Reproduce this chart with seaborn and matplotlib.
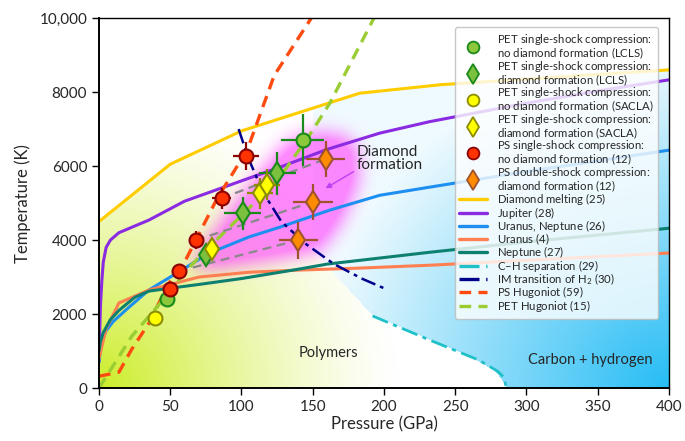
import numpy as np
import matplotlib
matplotlib.use("Agg")
import matplotlib.pyplot as plt
import matplotlib.lines as mlines
from matplotlib.path import Path
import seaborn as sns

sns.set_style("ticks")
plt.rcParams['font.family'] = ['Lato', 'DejaVu Sans']
plt.rcParams['mathtext.fontset'] = 'custom'
plt.rcParams['mathtext.rm'] = 'Lato'
plt.rcParams['mathtext.it'] = 'Lato:italic'
plt.rcParams['mathtext.default'] = 'regular'

# ---- curves (pressure GPa, temperature K) ----
melt_p = [0, 50, 100, 183, 240, 400]
melt_t = [4500, 6050, 6950, 7970, 8200, 8600]

jup_p = [0, 0.5, 1, 2, 3, 5, 8, 14, 35, 60, 100, 127, 160, 197, 232, 300, 350, 400]
jup_t = [700, 1500, 2200, 2900, 3400, 3800, 4000, 4200, 4540, 5050, 5600, 5970, 6450, 6890, 7200, 7700, 8030, 8330]

un_p = [0, 1, 2, 5, 10, 20, 35, 56, 77, 105, 127, 140, 162, 197, 232, 300, 400]
un_t = [700, 1000, 1250, 1550, 1800, 2150, 2650, 3140, 3640, 4080, 4350, 4520, 4810, 5210, 5430, 5850, 6430]

ura_p = [0, 5, 14, 35, 70, 105, 141, 181, 232, 400]
ura_t = [800, 1600, 2300, 2650, 3000, 3130, 3190, 3240, 3320, 3650]

nep_p = [0, 1, 3, 8, 14, 25, 35, 50, 70, 100, 141, 160, 232, 300, 400]
nep_t = [1000, 1250, 1500, 1850, 2100, 2450, 2620, 2700, 2800, 2960, 3220, 3350, 3670, 3950, 4320]

ch_p = [192, 232, 267, 280, 284, 286]
ch_t = [1950, 1300, 750, 450, 300, 0]

im_p = [98, 105, 115, 128, 145, 165, 185, 200]
im_t = [7000, 6200, 5300, 4500, 3900, 3350, 2950, 2700]

psh_p = [0, 14, 23, 35, 49, 60, 83, 104, 115, 123, 149]
psh_t = [320, 430, 1050, 1750, 2830, 3400, 5130, 6430, 7600, 8450, 10000]

peth_p = [0, 23, 42, 63, 77, 101, 127, 148, 162, 193]
peth_t = [0, 1400, 2250, 3250, 3800, 4700, 5700, 6850, 7700, 10000]

# ---- measurements ----
lcls_no_p, lcls_no_t = [48, 143], [2400, 6700]
lcls_no_xe, lcls_no_ye = [2, 15], [100, 700]
lcls_d_p, lcls_d_t = [75, 101, 125], [3590, 4720, 5800]
lcls_d_xe, lcls_d_ye = [5, 13, 13], [220, 450, 590]
sacla_no_p, sacla_no_t = [39], [1890]
sacla_d_p, sacla_d_t = [79, 113, 118], [3760, 5270, 5490]
sacla_d_xe, sacla_d_ye = [5, 9, 9], [250, 420, 420]
ps_p, ps_t = [50, 56, 68, 86, 103], [2680, 3160, 4000, 5130, 6270]
ps_xe, ps_ye = [2, 2, 5, 7, 9], [100, 100, 250, 280, 380]
psd_p, psd_t = [140, 150, 159], [4000, 5030, 6190]
psd_xe, psd_ye = [14, 14, 14], [500, 480, 480]

# regions
bnd_t = [0, 150, 450, 850, 1300, 1950, 3700, 10000]
bnd_p = [286, 284, 278, 260, 232, 192, 150, 150]
blob_p = [65, 75, 90, 111, 132, 150, 170, 182, 182, 170, 155, 120, 85]
blob_t = [3250, 3900, 4700, 5700, 6650, 6900, 6850, 6500, 5600, 4500, 3700, 3450, 3250]

fig = plt.figure(figsize=(6.85, 4.41), dpi=100)
ax = fig.add_axes([0.1445, 0.120, 0.832, 0.839])

# background shading
nx, ny = 570, 370
gp = np.linspace(0, 400, nx)
gt = np.linspace(0, 10000, ny)
PP, TT = np.meshgrid(gp, gt)
below = TT <= np.interp(PP, melt_p, melt_t)
left = PP < np.interp(TT, bnd_t, bnd_p)
a_poly = np.clip(1 - np.hypot(PP / 210, TT / 8000), 0, 1) ** 1.3 * (below & left)
a_blue = (0.07 + 0.93 * np.clip(1 - np.hypot((400 - PP) / 250, TT / 9000), 0, 1)) * (below & ~left)
img = np.ones((ny, nx, 3))
green = np.array([0.80, 0.93, 0.16])
blue = np.array([0.15, 0.74, 0.96])
img = img * (1 - a_poly[..., None]) + green * a_poly[..., None]
img = img * (1 - a_blue[..., None]) + blue * a_blue[..., None]
path = Path(np.column_stack([blob_p, blob_t]))
mask = path.contains_points(np.column_stack([PP.ravel(), TT.ravel()])).reshape(ny, nx).astype(float)
k = np.exp(-0.5 * (np.arange(-30, 31) / 9.0) ** 2)
k /= k.sum()
mask = np.apply_along_axis(lambda r: np.convolve(r, k, mode='same'), 1, mask)
mask = np.apply_along_axis(lambda c: np.convolve(c, k, mode='same'), 0, mask)
a_pink = 0.68 * np.clip(mask * 1.3, 0, 1)
pink = np.array([1.0, 0.32, 1.0])
img = img * (1 - a_pink[..., None]) + pink * a_pink[..., None]
ax.imshow(img, extent=[0, 400, 0, 10000], origin='lower', aspect='auto',
          interpolation='bilinear', zorder=0)

# curves
curves = [
    (melt_p, melt_t, '#ffcc00', '-', 2.2),
    (jup_p, jup_t, '#8a2be2', '-', 2.2),
    (un_p, un_t, '#1e8ff0', '-', 2.2),
    (ura_p, ura_t, '#ff7f50', '-', 2.2),
    (nep_p, nep_t, '#0e8070', '-', 2.2),
    (ch_p, ch_t, '#20c0c8', (0, (6, 2, 1.5, 2)), 2.0),
    (im_p, im_t, '#00008b', (0, (6, 2, 1.5, 2)), 1.8),
    (psh_p, psh_t, '#ff4a10', (0, (3.5, 2.2)), 2.4),
    (peth_p, peth_t, '#9acd32', (0, (3.5, 2.2)), 2.4),
]
for xs, ys, c, ls, w in curves:
    sns.lineplot(x=xs, y=ys, ax=ax, color=c, lw=w, linestyle=ls,
                 sort=False, estimator=None, zorder=2)

# double-shock connectors
for i in range(3):
    ax.plot([ps_p[i + 1], psd_p[i]], [ps_t[i + 1], psd_t[i]], color='#888888',
            lw=1.6, ls=(0, (4, 2.5)), zorder=2.5)

def pts(x, y, xe, ye, marker, fc, ec, ms):
    ax.errorbar(x, y, xerr=xe, yerr=ye, fmt=marker, mfc=fc, mec=ec, ecolor=ec,
                ms=ms, mew=1.5, elinewidth=1.6, capsize=0, zorder=4)

pts(psd_p, psd_t, psd_xe, psd_ye, 'd', '#ff8c00', '#a0522d', 11.5)
pts(lcls_d_p, lcls_d_t, lcls_d_xe, lcls_d_ye, 'd', '#7cc040', '#1a8a1a', 11.5)
pts(sacla_d_p, sacla_d_t, sacla_d_xe, sacla_d_ye, 'd', '#ffff00', '#8c8c00', 11.5)
pts(lcls_no_p, lcls_no_t, lcls_no_xe, lcls_no_ye, 'o', '#8cc83c', '#1a8a1a', 10)
pts(ps_p, ps_t, ps_xe, ps_ye, 'o', '#ff3300', '#8b0000', 10)
pts(sacla_no_p, sacla_no_t, None, None, 'o', '#ffff00', '#8c8c00', 10)

# labels in plot
ax.text(161, 950, 'Polymers', ha='center', va='center', fontsize=10.5)
ax.text(345, 760, 'Carbon + hydrogen', ha='center', va='center', fontsize=10.5)
ax.annotate('Diamond\nformation', xy=(159, 5400), xytext=(181, 6200),
            ha='left', va='center', fontsize=11, linespacing=0.95,
            arrowprops=dict(arrowstyle='-|>', color='#c040f0', lw=1,
                            shrinkA=0, shrinkB=0, mutation_scale=8,
                            relpos=(0, 0.1)))

ax.set_xlim(0, 400)
ax.set_ylim(0, 10000)
ax.set_xticks(range(0, 401, 50))
ax.set_yticks(range(0, 10001, 2000))
ax.set_yticklabels(['0', '2000', '4000', '6000', '8000', '10,000'])
ax.set_xlabel('Pressure (GPa)', fontsize=12, labelpad=2)
ax.set_ylabel('Temperature (K)', fontsize=12, labelpad=6)
ax.tick_params(labelsize=11, direction='out', length=5, width=1, color='black')
for s in ax.spines.values():
    s.set_color('black')
    s.set_linewidth(1.0)
ax.spines['left'].set_linewidth(1.4)
ax.spines['bottom'].set_linewidth(1.4)

def mk(marker, fc, ec, ms):
    return mlines.Line2D([], [], marker=marker, ls='None', mfc=fc, mec=ec, mew=1.3, ms=ms)

def ln(c, ls):
    return mlines.Line2D([], [], color=c, lw=2.4, ls=ls)

handles = [
    mk('o', '#8cc83c', '#1a8a1a', 8.5),
    mk('d', '#7cc040', '#1a8a1a', 10.5),
    mk('o', '#ffff00', '#8c8c00', 8.5),
    mk('d', '#ffff00', '#8c8c00', 10.5),
    mk('o', '#ff3300', '#8b0000', 8.5),
    mk('d', '#ff8c00', '#a0522d', 10.5),
] + [ln(c, ls) for _, _, c, ls, _ in curves]
# every line holds a bit of mathtext so all lines get the same height
labels = [
    '$\\mathrm{PET}$ single-shock compression:\nno diamond formation ($\\mathrm{LCLS}$)',
    '$\\mathrm{PET}$ single-shock compression:\ndiamond formation ($\\mathrm{LCLS}$)',
    '$\\mathrm{PET}$ single-shock compression:\nno diamond formation ($\\mathrm{SACLA}$)',
    '$\\mathrm{PET}$ single-shock compression:\ndiamond formation ($\\mathrm{SACLA}$)',
    '$\\mathrm{PS}$ single-shock compression:\nno diamond formation ($\\mathit{12}$)',
    '$\\mathrm{PS}$ double-shock compression:\ndiamond formation ($\\mathit{12}$)',
    'Diamond melting ($\\mathit{25}$)',
    'Jupiter ($\\mathit{28}$)',
    'Uranus, Neptune ($\\mathit{26}$)',
    'Uranus ($\\mathit{4}$)',
    'Neptune ($\\mathit{27}$)',
    'C\u2013H separation ($\\mathit{29}$)',
    'IM transition of H$_2$ ($\\mathit{30}$)',
    'PS Hugoniot ($\\mathit{59}$)',
    'PET Hugoniot ($\\mathit{15}$)',
]
leg = ax.legend(handles, labels, loc='upper right', bbox_to_anchor=(0.991, 0.99),
                fontsize=8.2, handlelength=2.4, labelspacing=-0.22, borderpad=0.4,
                handletextpad=0.9, framealpha=0.8, edgecolor='#bbbbbb', fancybox=True)
for t in leg.get_texts():
    t.set_linespacing(0.88)
leg.set_zorder(6)

fig.savefig('out.png', dpi=100)
